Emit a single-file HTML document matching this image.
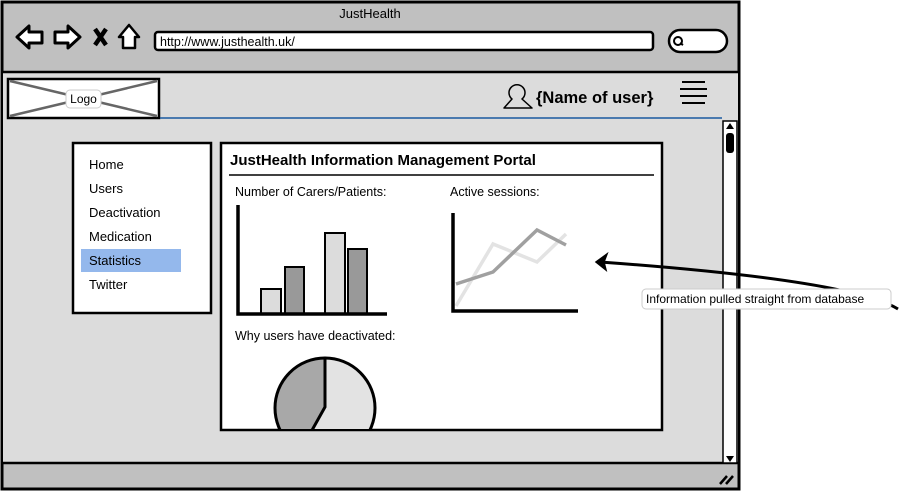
<!DOCTYPE html>
<html><head><meta charset="utf-8"><style>
html,body{margin:0;padding:0;background:#fff;width:900px;height:492px;overflow:hidden}
svg{display:block}
text{font-family:"Liberation Sans",sans-serif;fill:#000}
</style></head><body>
<svg width="900" height="492" viewBox="0 0 900 492" xmlns="http://www.w3.org/2000/svg">
<rect x="2" y="2" width="737" height="487" fill="#c0c0c0" stroke="#000" stroke-width="3"/>
<rect x="3" y="72" width="735" height="391" fill="#dcdcdc"/>
<line x1="2" y1="72" x2="739" y2="72" stroke="#000" stroke-width="2.5"/>
<line x1="2" y1="463" x2="739" y2="463" stroke="#000" stroke-width="2.5"/>
<text x="370" y="18" font-size="13" text-anchor="middle">JustHealth</text>
<path d="M17 37 L29 26 L29 32 L42 32 L42 43 L29 43 L29 48 Z" fill="#fff" stroke="#000" stroke-width="3" stroke-linejoin="round"/>
<path d="M80 37 L68 26 L68 32 L55 32 L55 43 L68 43 L68 48 Z" fill="#fff" stroke="#000" stroke-width="3" stroke-linejoin="round"/>
<path d="M95 29 L106 45 M106 29 L95 45" stroke="#000" stroke-width="4.5"/>
<path d="M129 25 L119 37 L123 37 L123 48 L135 48 L135 37 L139 37 Z" fill="#fff" stroke="#000" stroke-width="2.5" stroke-linejoin="round"/>
<rect x="155" y="32" width="498" height="18" rx="3" fill="#fff" stroke="#000" stroke-width="2.5"/>
<text x="160" y="46" font-size="12.5">http://www.justhealth.uk/</text>
<rect x="669" y="30" width="58" height="22" rx="11" fill="#fff" stroke="#000" stroke-width="2.5"/>
<circle cx="678" cy="41" r="4" fill="none" stroke="#000" stroke-width="2"/>
<line x1="680" y1="43" x2="683" y2="45" stroke="#000" stroke-width="2"/>
<rect x="8" y="79" width="151" height="39" fill="#fff" stroke="#000" stroke-width="2.5"/>
<line x1="10" y1="81" x2="157" y2="116" stroke="#666" stroke-width="2.5"/>
<line x1="10" y1="116" x2="157" y2="81" stroke="#666" stroke-width="2.5"/>
<rect x="66" y="90" width="35" height="18" rx="4" fill="#fff" stroke="#ccc"/>
<text x="83.5" y="103" font-size="12" text-anchor="middle">Logo</text>
<line x1="160" y1="118" x2="722" y2="118" stroke="#1a5aa0" stroke-width="1.5"/>
<path d="M504 108 L512 99 A8 8 0 1 1 522 99 L532 108 Z" fill="none" stroke="#000" stroke-width="1.5" stroke-linejoin="round"/>
<text x="536" y="103" font-size="16.5" font-weight="bold">{Name of user}</text>
<line x1="682" y1="82" x2="705" y2="82" stroke="#000" stroke-width="2"/>
<line x1="680" y1="89" x2="707" y2="89" stroke="#000" stroke-width="2"/>
<line x1="680" y1="96" x2="707" y2="96" stroke="#000" stroke-width="2"/>
<line x1="682" y1="103" x2="705" y2="103" stroke="#000" stroke-width="2"/>
<rect x="723" y="121" width="14" height="342" fill="#fff" stroke="#000" stroke-width="1.5"/>
<rect x="726" y="133" width="8" height="20" rx="3" fill="#000"/>
<path d="M726 129 L730 123 L734 129 Z" fill="#000"/>
<path d="M726 456 L730 462 L734 456 Z" fill="#000"/>
<line x1="720" y1="484" x2="727" y2="476" stroke="#000" stroke-width="2.5"/>
<line x1="726" y1="484" x2="733" y2="476" stroke="#000" stroke-width="2.5"/>
<rect x="73" y="143" width="138" height="170" fill="#fff" stroke="#000" stroke-width="2.5"/>
<rect x="81" y="249" width="100" height="23" fill="#94b8ec"/>
<g font-size="13">
<text x="89" y="169">Home</text>
<text x="89" y="193">Users</text>
<text x="89" y="217">Deactivation</text>
<text x="89" y="241">Medication</text>
<text x="89" y="265">Statistics</text>
<text x="89" y="289">Twitter</text>
</g>
<rect x="221" y="143" width="441" height="287" fill="#fff" stroke="#000" stroke-width="2.5"/>
<text x="230" y="165" font-size="15" font-weight="bold">JustHealth Information Management Portal</text>
<line x1="229" y1="175" x2="654" y2="175" stroke="#000" stroke-width="1.5"/>
<text x="235" y="196" font-size="12.5">Number of Carers/Patients:</text>
<text x="450" y="196" font-size="12.5">Active sessions:</text>
<text x="235" y="340" font-size="12.5">Why users have deactivated:</text>
<rect x="261" y="289" width="20" height="25" fill="#dcdcdc" stroke="#000" stroke-width="2"/>
<rect x="285" y="267" width="19" height="47" fill="#999" stroke="#000" stroke-width="2"/>
<rect x="325" y="233" width="20" height="81" fill="#dcdcdc" stroke="#000" stroke-width="2"/>
<rect x="348" y="249" width="19" height="65" fill="#999" stroke="#000" stroke-width="2"/>
<polyline points="238,205 238,314 387,314" fill="none" stroke="#000" stroke-width="3.5"/>
<polyline points="456,306 493,244 537,262 566,234" fill="none" stroke="#e3e3e3" stroke-width="3.5"/>
<polyline points="456,284 493,272 537,230 566,245" fill="none" stroke="#a0a0a0" stroke-width="3.5"/>
<polyline points="453,213 453,311 578,311" fill="none" stroke="#000" stroke-width="3.5"/>
<clipPath id="pc"><rect x="221" y="340" width="441" height="89"/></clipPath>
<clipPath id="cc"><circle cx="325" cy="408" r="50"/></clipPath>
<g clip-path="url(#pc)">
<circle cx="325" cy="408" r="50" fill="#e3e3e3"/>
<path d="M325 355 L325 407 L310 435 L260 435 L260 355 Z" fill="#a8a8a8" clip-path="url(#cc)"/>
<circle cx="325" cy="408" r="50" fill="none" stroke="#000" stroke-width="3"/>
<polyline points="325,358 325,407 311,432" fill="none" stroke="#000" stroke-width="3"/>
</g>
<path d="M898 309 Q850 280 600 262" fill="none" stroke="#000" stroke-width="3"/>
<path d="M596 262 L607 254 L604 262 L606 270 Z" fill="#000" stroke="#000" stroke-width="1.5"/>
<rect x="642" y="289" width="249" height="20" rx="4" fill="#fff" stroke="#ccc"/>
<text x="646" y="303" font-size="12">Information pulled straight from database</text>
</svg>
</body></html>
